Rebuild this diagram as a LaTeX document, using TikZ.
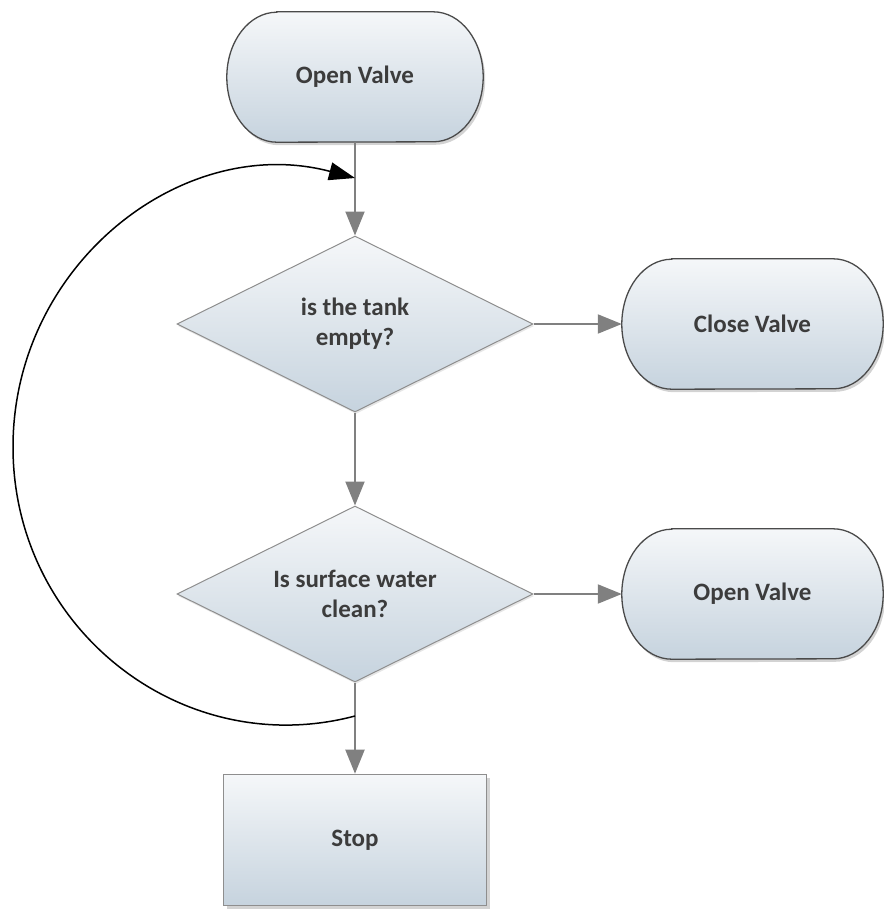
\documentclass[tikz,border=0pt]{standalone}
\usepackage{fontspec}
\setmainfont{Carlito}
\usetikzlibrary{shapes.geometric,arrows.meta,shadows,backgrounds}

\definecolor{shadetop}{HTML}{F5F7F9}
\definecolor{shadebot}{HTML}{C6D3DE}
\definecolor{pilledge}{HTML}{4A4A4A}
\definecolor{boxedge}{HTML}{8E8E8E}
\definecolor{flowgray}{HTML}{808080}
\definecolor{labeltext}{HTML}{3C3C3C}

% Stadium outline with elliptical ends around a (borderless) node
\newcommand\pilloutline[1]{%
  \path[pillshape] ([xshift=50pt]#1.north west) -- ([xshift=-50pt]#1.north east)
    arc[start angle=90, end angle=-90, x radius=50pt, y radius=65pt]
    -- ([xshift=50pt]#1.south west)
    arc[start angle=270, end angle=90, x radius=50pt, y radius=65pt] -- cycle;}

\begin{document}
\begin{tikzpicture}[x=1pt,y=-1pt,
  labelfont/.style={font=\fontsize{25}{30}\selectfont\bfseries, text=labeltext},
  pillnode/.style={labelfont, rectangle, minimum height=130pt, inner sep=0pt},
  pillshape/.style={draw=pilledge, line width=1.3pt, top color=shadetop, bottom color=shadebot,
    drop shadow={shadow xshift=2pt, shadow yshift=-3pt, opacity=0.35}},
  decision/.style={labelfont, diamond, aspect=2, minimum width=356pt, minimum height=176pt,
    inner sep=0pt, align=center, draw=boxedge, line width=1pt, top color=shadetop,
    bottom color=shadebot, drop shadow={shadow xshift=1pt, shadow yshift=-2pt, opacity=0.2}},
  stopbox/.style={labelfont, rectangle, minimum width=263pt, minimum height=131pt,
    draw=boxedge, line width=1.6pt, top color=shadetop, bottom color=shadebot,
    drop shadow={shadow xshift=3pt, shadow yshift=-3pt, opacity=0.35}},
  flowarrow/.style={draw=flowgray, line width=2pt, -{Triangle[length=24pt,width=19pt]}},
  loopback/.style={draw=black, line width=1.5pt, -{Triangle[length=26pt,width=18pt]}}
]
\useasboundingbox (0,0) rectangle (884,911);

% nodes
\node[pillnode, minimum width=256pt] (start) at (355,77) {Open Valve};
\node[decision] (tank) at (355,324) {is the tank\\empty?};
\node[pillnode, minimum width=261pt] (close) at (752.5,324) {Close Valve};
\node[decision] (clean) at (355,594) {Is surface water\\clean?};
\node[pillnode, minimum width=261pt] (open) at (752.5,594) {Open Valve};
\node[stopbox] (stop) at (355,840) {Stop};

\begin{pgfonlayer}{background}
  \pilloutline{start}
  \pilloutline{close}
  \pilloutline{open}
\end{pgfonlayer}

% connectors
\draw[flowarrow] (start.south) -- (tank.north);
\draw[flowarrow] (tank.east) -- (close.west);
\draw[flowarrow] (tank.south) -- (clean.north);
\draw[flowarrow] (clean.east) -- (open.west);
\draw[flowarrow] (clean.south) -- (stop.north);

% loop back from below the second decision to above the first one
\coordinate (loopstart) at (355,716);
\coordinate (looptip) at (355,178);
\draw[loopback] (loopstart) .. controls (182.6,761.7) and (13,629.1) .. (13,447)
  .. controls (13,264.9) and (182.6,132.3) .. (looptip);
\end{tikzpicture}
\end{document}
